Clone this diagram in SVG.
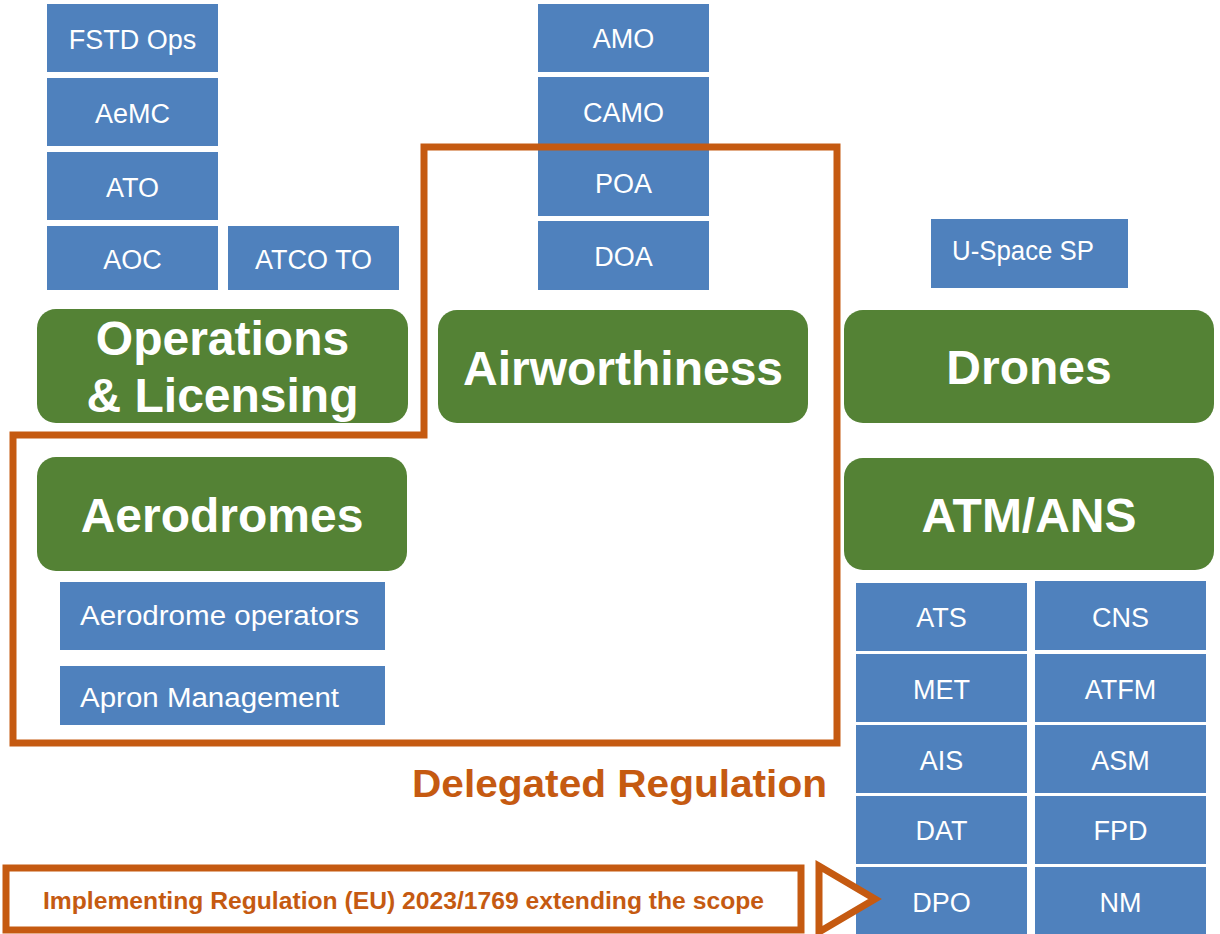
<svg xmlns="http://www.w3.org/2000/svg" width="1220" height="934" viewBox="0 0 1220 934">
  <style>
    .box { fill: #4F81BD; }
    .lbl { fill: #FFFFFF; font-family: "Liberation Sans", Arial, sans-serif; font-size: 27px; }
    .mid { text-anchor: middle; }
    .cat { fill: #548235; }
    .cattxt { fill: #FFFFFF; font-family: "Liberation Sans", Arial, sans-serif; font-weight: bold; font-size: 48px; text-anchor: middle; }
    .scope { fill: none; stroke: #C55A11; stroke-width: 7; stroke-linejoin: miter; }
    .reg { fill: #C55A11; font-family: "Liberation Sans", Arial, sans-serif; font-weight: bold; }
  </style>
  <rect width="1220" height="934" fill="#FFFFFF"/>

  <!-- Operations & Licensing column -->
  <g id="fstd-ops"><rect class="box" x="47" y="4" width="171" height="68"/><text class="lbl mid" x="132.5" y="49">FSTD Ops</text></g>
  <g id="aemc"><rect class="box" x="47" y="78" width="171" height="68"/><text class="lbl mid" x="132.5" y="123">AeMC</text></g>
  <g id="ato"><rect class="box" x="47" y="152" width="171" height="68"/><text class="lbl mid" x="132.5" y="197">ATO</text></g>
  <g id="aoc"><rect class="box" x="47" y="226" width="171" height="64"/><text class="lbl mid" x="132.5" y="269">AOC</text></g>
  <g id="atco-to"><rect class="box" x="228" y="226" width="171" height="64"/><text class="lbl mid" x="313.5" y="269">ATCO TO</text></g>
  <g id="operations-licensing"><rect class="cat" x="37" y="309" width="371" height="114" rx="19"/><text class="cattxt" x="222.5" y="355">Operations</text><text class="cattxt" x="222.5" y="412">&amp; Licensing</text></g>

  <!-- Airworthiness column -->
  <g id="amo"><rect class="box" x="538" y="4" width="171" height="68"/><text class="lbl mid" x="623.5" y="48">AMO</text></g>
  <g id="camo"><rect class="box" x="538" y="77" width="171" height="68"/><text class="lbl mid" x="623.5" y="122">CAMO</text></g>
  <g id="poa"><rect class="box" x="538" y="150" width="171" height="66"/><text class="lbl mid" x="623.5" y="193">POA</text></g>
  <g id="doa"><rect class="box" x="538" y="221" width="171" height="69"/><text class="lbl mid" x="623.5" y="266">DOA</text></g>
  <g id="airworthiness"><rect class="cat" x="438" y="310" width="370" height="113" rx="19"/><text class="cattxt" x="623" y="385">Airworthiness</text></g>

  <!-- Aerodromes -->
  <g id="aerodromes"><rect class="cat" x="37" y="457" width="370" height="114" rx="19"/><text class="cattxt" x="222" y="532">Aerodromes</text></g>
  <g id="aerodrome-operators"><rect class="box" x="60" y="582" width="325" height="68"/><text class="lbl" x="80" y="625" textLength="279" lengthAdjust="spacingAndGlyphs">Aerodrome operators</text></g>
  <g id="apron-management"><rect class="box" x="60" y="666" width="325" height="59"/><text class="lbl" x="80" y="707" textLength="259" lengthAdjust="spacingAndGlyphs">Apron Management</text></g>

  <!-- Drones -->
  <g id="u-space-sp"><rect class="box" x="931" y="219" width="197" height="69"/><text class="lbl" x="952" y="260" textLength="142" lengthAdjust="spacingAndGlyphs">U-Space SP</text></g>
  <g id="drones"><rect class="cat" x="844" y="310" width="370" height="113" rx="19"/><text class="cattxt" x="1029" y="384">Drones</text></g>

  <!-- ATM/ANS -->
  <g id="atm-ans"><rect class="cat" x="844" y="458" width="370" height="112" rx="19"/><text class="cattxt" x="1029" y="532">ATM/ANS</text></g>
  <g id="ats"><rect class="box" x="856" y="583" width="171" height="68"/><text class="lbl mid" x="941.5" y="627">ATS</text></g>
  <g id="cns"><rect class="box" x="1035" y="581" width="171" height="69"/><text class="lbl mid" x="1120.5" y="627">CNS</text></g>
  <g id="met"><rect class="box" x="856" y="654" width="171" height="68"/><text class="lbl mid" x="941.5" y="699">MET</text></g>
  <g id="atfm"><rect class="box" x="1035" y="654" width="171" height="68"/><text class="lbl mid" x="1120.5" y="699">ATFM</text></g>
  <g id="ais"><rect class="box" x="856" y="725" width="171" height="68"/><text class="lbl mid" x="941.5" y="770">AIS</text></g>
  <g id="asm"><rect class="box" x="1035" y="725" width="171" height="68"/><text class="lbl mid" x="1120.5" y="770">ASM</text></g>
  <g id="dat"><rect class="box" x="856" y="796" width="171" height="68"/><text class="lbl mid" x="941.5" y="840">DAT</text></g>
  <g id="fpd"><rect class="box" x="1035" y="796" width="171" height="68"/><text class="lbl mid" x="1120.5" y="840">FPD</text></g>
  <g id="dpo"><rect class="box" x="856" y="867" width="171" height="67"/><text class="lbl mid" x="941.5" y="912">DPO</text></g>
  <g id="nm"><rect class="box" x="1035" y="867" width="171" height="67"/><text class="lbl mid" x="1120.5" y="912">NM</text></g>

  <!-- Scope outlines and pointer -->
  <g id="connectors">
    <path id="delegated-scope" class="scope" d="M424 147 H837 V743 H13 V435 H424 Z"/>
    <rect id="implementing-box" class="scope" x="6" y="868" width="795" height="62"/>
    <polygon id="implementing-pointer" class="scope" style="fill:#FFFFFF" points="819,866 875,899 819,932"/>
  </g>

  <g id="labels">
    <text class="reg" x="412" y="797" font-size="39" textLength="415" lengthAdjust="spacingAndGlyphs">Delegated Regulation</text>
    <text class="reg" x="43" y="909" font-size="23" textLength="721" lengthAdjust="spacingAndGlyphs">Implementing Regulation (EU) 2023/1769 extending the scope</text>
  </g>
</svg>
